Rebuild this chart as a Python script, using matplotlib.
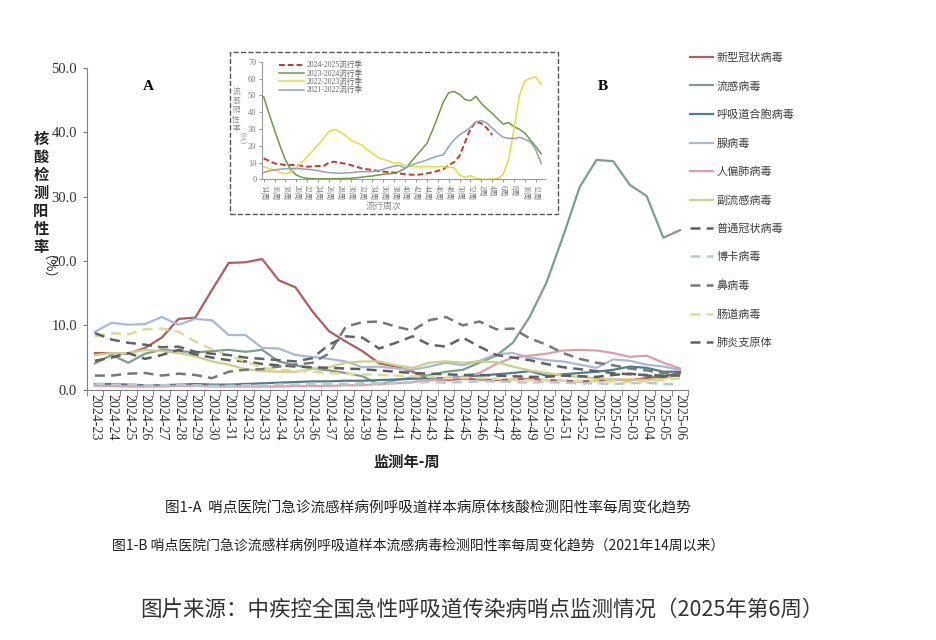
import numpy as np
import matplotlib
matplotlib.use('Agg')
import matplotlib.pyplot as plt
from matplotlib.patches import Rectangle

plt.rcParams['font.family'] = ['Liberation Serif', 'Noto Sans CJK SC', 'DejaVu Sans']
CJK = ['Noto Sans CJK SC', 'DejaVu Sans']

# ---- main chart data (figure 1-A) ----
weeks = ['2024-23', '2024-24', '2024-25', '2024-26', '2024-27', '2024-28', '2024-29',
         '2024-30', '2024-31', '2024-32', '2024-33', '2024-34', '2024-35', '2024-36',
         '2024-37', '2024-38', '2024-39', '2024-40', '2024-41', '2024-42', '2024-43',
         '2024-44', '2024-45', '2024-46', '2024-47', '2024-48', '2024-49', '2024-50',
         '2024-51', '2024-52', '2025-01', '2025-02', '2025-03', '2025-04', '2025-05',
         '2025-06']

covid = [5.7, 5.7, 5.6, 6.5, 8.1, 11.0, 11.2, 15.5, 19.7, 19.8, 20.3, 17.0, 15.9, 12.2,
         9.1, 7.5, 6.0, 4.1, 3.6, 2.8, 1.6, 1.5, 1.7, 1.6, 1.5, 1.6, 1.7, 1.5, 1.4, 1.3,
         1.4, 1.6, 1.5, 1.8, 2.1, 2.6]
flu = [4.1, 5.4, 4.2, 5.6, 6.2, 6.0, 5.8, 6.0, 6.2, 5.9, 6.2, 4.4, 3.8, 3.3, 3.0, 2.6,
       2.1, 0.8, 1.5, 1.9, 2.3, 2.8, 3.1, 4.2, 5.3, 7.3, 11.3, 16.6, 23.8, 31.5, 35.7,
       35.5, 31.8, 30.1, 23.6, 24.8]
rsv = [0.9, 0.9, 0.8, 0.7, 0.7, 0.8, 0.9, 0.8, 0.8, 0.9, 1.0, 1.1, 1.2, 1.3, 1.3, 1.4,
       1.4, 1.5, 1.6, 1.7, 1.8, 1.8, 2.0, 2.2, 2.4, 2.6, 2.9, 2.2, 2.4, 2.6, 2.8, 3.1,
       3.6, 3.4, 2.8, 2.8]
adeno = [9.0, 10.4, 10.1, 10.2, 11.3, 10.1, 11.0, 10.8, 8.5, 8.5, 6.5, 6.4, 5.4, 5.1,
         4.8, 4.4, 3.5, 3.6, 3.3, 3.1, 3.6, 4.2, 3.8, 4.5, 5.5, 5.7, 5.0, 4.6, 4.4, 3.9,
         3.4, 4.7, 4.5, 3.9, 3.6, 3.1]
hmpv = [0.6, 0.6, 0.5, 0.5, 0.5, 0.6, 0.6, 0.5, 0.5, 0.5, 0.5, 0.5, 0.6, 0.6, 0.6, 0.7,
        0.7, 0.9, 1.0, 1.2, 1.5, 1.6, 2.0, 2.6, 4.0, 5.0, 5.3, 5.6, 6.1, 6.2, 6.1, 5.7,
        5.1, 5.3, 4.2, 3.3]
para = [5.4, 5.7, 5.7, 6.2, 6.0, 5.7, 5.2, 4.4, 3.9, 3.2, 2.9, 2.8, 2.8, 3.2, 3.5, 4.2,
        4.4, 4.4, 3.8, 3.4, 4.2, 4.4, 4.2, 4.4, 4.3, 3.6, 3.0, 2.6, 2.2, 2.0, 1.8, 1.6,
        1.6, 1.5, 1.7, 2.4]
hcov = [4.5, 5.0, 5.7, 4.8, 5.4, 6.2, 5.5, 5.0, 4.6, 4.4, 4.0, 3.8, 3.6, 3.5, 3.4, 3.3,
        3.2, 3.0, 2.8, 2.6, 2.5, 2.4, 2.3, 2.3, 2.2, 2.1, 2.0, 2.0, 2.2, 2.1, 2.0, 2.3,
        2.5, 2.2, 2.0, 2.6]
boca = [0.9, 0.8, 0.8, 0.7, 0.7, 0.8, 0.7, 0.6, 0.6, 0.7, 0.7, 0.8, 0.8, 0.9, 0.9, 0.9,
        1.0, 1.0, 1.1, 1.1, 1.2, 1.1, 1.2, 1.3, 1.3, 1.2, 1.1, 1.2, 1.1, 1.0, 1.0, 0.9,
        1.0, 1.1, 0.9, 0.8]
rhino = [2.2, 2.2, 2.5, 2.6, 2.2, 2.5, 2.3, 1.8, 2.8, 3.1, 3.2, 3.6, 3.9, 4.2, 5.6, 9.8,
         10.5, 10.6, 9.8, 9.2, 10.8, 11.3, 10.0, 10.6, 9.4, 9.5, 8.0, 7.0, 5.7, 4.8, 4.2,
         3.8, 3.3, 3.0, 2.6, 2.4]
entero = [8.3, 8.8, 8.6, 9.4, 9.5, 9.0, 7.5, 6.3, 5.3, 4.4, 3.4, 3.1, 3.0, 2.8, 2.6, 2.5,
          2.4, 2.3, 2.2, 2.1, 2.0, 1.9, 1.8, 1.8, 1.7, 1.6, 1.5, 1.5, 1.4, 1.4, 1.3, 1.3,
          1.2, 1.3, 1.5, 1.8]
myco = [8.8, 7.8, 7.3, 7.0, 6.6, 6.7, 5.9, 5.6, 5.4, 5.0, 4.8, 4.6, 4.4, 4.9, 7.0, 8.3,
        8.1, 6.4, 7.3, 8.3, 7.0, 6.7, 8.1, 6.7, 5.4, 5.0, 4.6, 4.0, 3.5, 3.2, 2.9, 2.6,
        2.4, 2.3, 2.2, 2.2]

names = ['新型冠状病毒', '流感病毒', '呼吸道合胞病毒', '腺病毒', '人偏肺病毒', '副流感病毒',
         '普通冠状病毒', '博卡病毒', '鼻病毒', '肠道病毒', '肺炎支原体']
series = [covid, flu, rsv, adeno, hmpv, para, hcov, boca, rhino, entero, myco]
colors = ['#b35c5e', '#7d9e8c', '#4e7d8f', '#aab8d8', '#dd9eab', '#cdcf86',
          '#5e5e5e', '#b9c9d2', '#777777', '#dcdc98', '#636363']
styles = ['-', '-', '-', '-', '-', '-', '--', '--', '--', '--', '--']

# ---- inset data (figure 1-B), weeks 14 .. 13 of next year ----
inset_ticks = ['14周', '16周', '18周', '20周', '22周', '24周', '26周', '28周', '30周', '32周',
               '34周', '36周', '38周', '40周', '42周', '44周', '46周', '48周', '50周', '52周',
               '2周', '4周', '6周', '8周', '10周', '12周']
s2425 = [12.5, 11.0, 9.5, 9.0, 8.5, 8.6, 8.5, 8.0, 7.5, 7.7, 7.9, 7.9, 9.9, 10.5, 9.8,
         9.3, 8.5, 7.5, 6.5, 6.0, 5.6, 5.0, 4.6, 4.3, 4.0, 3.5, 3.0, 2.8, 2.6, 3.0, 3.5,
         4.2, 5.0, 6.0, 8.5, 10.2, 14.0, 22.0, 30.0, 34.3, 33.3, 30.5, 26.4]
s2324 = [49.2, 39.0, 29.3, 20.0, 11.5, 5.6, 2.6, 1.2, 0.6, 0.4, 0.3, 0.3, 0.3, 0.4, 0.4,
         0.5, 0.6, 0.9, 1.3, 1.7, 2.0, 2.5, 3.0, 3.3, 3.6, 4.8, 6.5, 10.0, 13.9, 17.5,
         21.4, 29.0, 37.3, 46.0, 51.5, 52.3, 50.5, 47.5, 46.8, 49.4, 45.2, 42.0, 39.3,
         36.0, 32.9, 33.8, 31.3, 29.8, 27.5, 23.4, 19.5, 15.1]
s2223 = [7.5, 6.4, 5.6, 4.2, 3.2, 4.5, 6.5, 10.0, 13.5, 17.0, 20.4, 24.5, 28.5, 29.7,
         28.4, 26.2, 23.4, 21.8, 20.6, 17.6, 15.5, 13.0, 11.8, 11.0, 9.6, 9.9, 8.2, 7.8,
         7.5, 7.5, 7.6, 7.5, 7.4, 7.5, 7.2, 6.8, 2.5, 1.2, 2.2, 0.6, 0.1, 0.0, 0.1, 0.3,
         3.0, 11.5, 30.0, 50.0, 58.7, 60.1, 61.0, 56.5]
s2122 = [4.0, 5.0, 5.6, 6.0, 6.3, 6.5, 6.5, 6.2, 6.0, 5.6, 5.2, 4.5, 4.0, 3.8, 3.6, 3.8,
         4.0, 4.3, 4.6, 4.6, 4.6, 5.2, 6.0, 7.0, 7.9, 8.3, 6.5, 8.2, 9.5, 10.5, 11.5,
         12.8, 13.9, 14.5, 19.4, 23.5, 26.5, 28.5, 30.9, 34.3, 34.9, 33.6, 30.5, 27.5,
         25.0, 24.4, 24.2, 25.0, 23.8, 22.4, 17.5, 9.5]

fig = plt.figure(figsize=(9.36, 6.4), dpi=100)

# main axes
ax = fig.add_axes([0.0925, 0.391, 0.643, 0.503])
x = np.arange(len(weeks))
lines = []
for vals, name, c, ls in zip(series, names, colors, styles):
    if ls == '--':
        l, = ax.plot(x, vals, color=c, lw=1.8, linestyle=(0, (4, 2.5)), label=name)
    else:
        l, = ax.plot(x, vals, color=c, lw=1.6, label=name)
    lines.append(l)

ax.set_xlim(-0.5, len(weeks) - 0.5)
ax.set_ylim(0, 50)
ax.set_yticks(np.arange(0, 51, 10))
ax.set_yticklabels([f'{v:.1f}' for v in np.arange(0, 51, 10)], fontsize=10.5, color='#333333')
ax.set_xticks(x)
ax.set_xticklabels(weeks, rotation=270, fontsize=10, color='#333333')
ax.set_xticks(np.arange(-0.5, len(weeks), 1), minor=True)
ax.tick_params(axis='x', which='major', length=0, pad=3)
ax.tick_params(axis='x', which='minor', length=4, color='#777777')
ax.tick_params(axis='y', length=3, color='#777777', pad=4)
for s in ['top', 'right']:
    ax.spines[s].set_visible(False)
for s in ['left', 'bottom']:
    ax.spines[s].set_color('#7f7f7f')

ax.legend(handles=lines, loc='upper left', bbox_to_anchor=(686 / 936, 1 - 48 / 640),
          bbox_transform=fig.transFigure, frameon=False, borderaxespad=0,
          prop={'family': CJK, 'size': 8}, handlelength=2.0, handletextpad=0.35,
          labelspacing=1.62, labelcolor='#404040')

fig.text(148 / 936, 1 - 87 / 640, 'A', fontsize=11, fontweight='bold', ha='center', va='center')
fig.text(603 / 936, 1 - 87 / 640, 'B', fontsize=11, fontweight='bold', ha='center', va='center')
fig.text(41 / 936, 1 - 131 / 640, '\n'.join('核酸检测阳性率'), family=CJK, fontsize=11,
         fontweight='bold', ha='center', va='top', linespacing=1.15, color='#222222')
fig.text(41 / 936, 1 - 274 / 640, '（%）', family=CJK, fontsize=9.5, rotation=270,
         ha='center', va='center', color='#222222')
fig.text(407 / 936, 1 - 462 / 640, '监测年-周', family=CJK, fontsize=11, fontweight='bold',
         ha='center', va='center', color='#222222')

# inset
iax = fig.add_axes([0.2799, 0.7198, 0.3024, 0.1838])
iax.plot(np.arange(len(s2425)), s2425, color='#c0392b', lw=1.4, linestyle=(0, (3, 1.5)),
         label='2024-2025流行季')
iax.plot(np.arange(len(s2324)), s2324, color='#6f9a45', lw=1.1, label='2023-2024流行季')
iax.plot(np.arange(len(s2223)), s2223, color='#e3dc3c', lw=1.1, label='2022-2023流行季')
iax.plot(np.arange(len(s2122)), s2122, color='#8fa2b8', lw=1.1, label='2021-2022流行季')
iax.set_xlim(-0.3, 51.7)
iax.set_ylim(0, 70)
iax.set_yticks(np.arange(0, 71, 10))
iax.tick_params(axis='y', labelsize=6, labelcolor='#777777', length=2, color='#999999', pad=2)
iax.set_xticks(np.arange(0, 52, 2))
iax.set_xticklabels(inset_ticks, rotation=270, fontsize=5.5, color='#777777')
iax.tick_params(axis='x', length=2, color='#999999', pad=2)
for s in ['top', 'right']:
    iax.spines[s].set_visible(False)
for s in ['left', 'bottom']:
    iax.spines[s].set_color('#999999')
iax.legend(loc='upper left', bbox_to_anchor=(0.05, 1.03), frameon=False, borderaxespad=0,
           prop={'family': ['Liberation Serif', 'Noto Sans CJK SC'], 'size': 5.5},
           handlelength=3.2, handletextpad=0.4, labelspacing=0.05, labelcolor='#666666')
fig.text(236 / 936, 1 - 88 / 640, '\n'.join('流感阳性率'), family=CJK, fontsize=5.5,
         ha='center', va='top', linespacing=1.2, color='#888888')
fig.text(236 / 936, 1 - 143 / 640, '（%）', family=CJK, fontsize=5.5, rotation=270,
         ha='center', va='center', color='#888888')
fig.text(384 / 936, 1 - 207 / 640, '流行周次', family=CJK, fontsize=6.5,
         ha='center', va='center', color='#888888')
fig.patches.append(Rectangle((230 / 936, 1 - 214 / 640), 328 / 936, 162 / 640,
                             transform=fig.transFigure, fill=False, linestyle='--',
                             edgecolor='#555555', lw=1.0))

# captions
fig.text(165 / 936, 1 - 508 / 640, '图1-A  哨点医院门急诊流感样病例呼吸道样本病原体核酸检测阳性率每周变化趋势',
         family=CJK, fontsize=10.5, va='center', color='#222222')
fig.text(112 / 936, 1 - 546 / 640,
         '图1-B 哨点医院门急诊流感样病例呼吸道样本流感病毒检测阳性率每周变化趋势（2021年14周以来）',
         family=CJK, fontsize=10, va='center', color='#222222')
fig.text(140 / 936, 1 - 610 / 640, '图片来源：中疾控全国急性呼吸道传染病哨点监测情况（2025年第6周）',
         family=CJK, fontsize=15.5, va='center', color='#333333')

fig.savefig('out.png', dpi=100)
